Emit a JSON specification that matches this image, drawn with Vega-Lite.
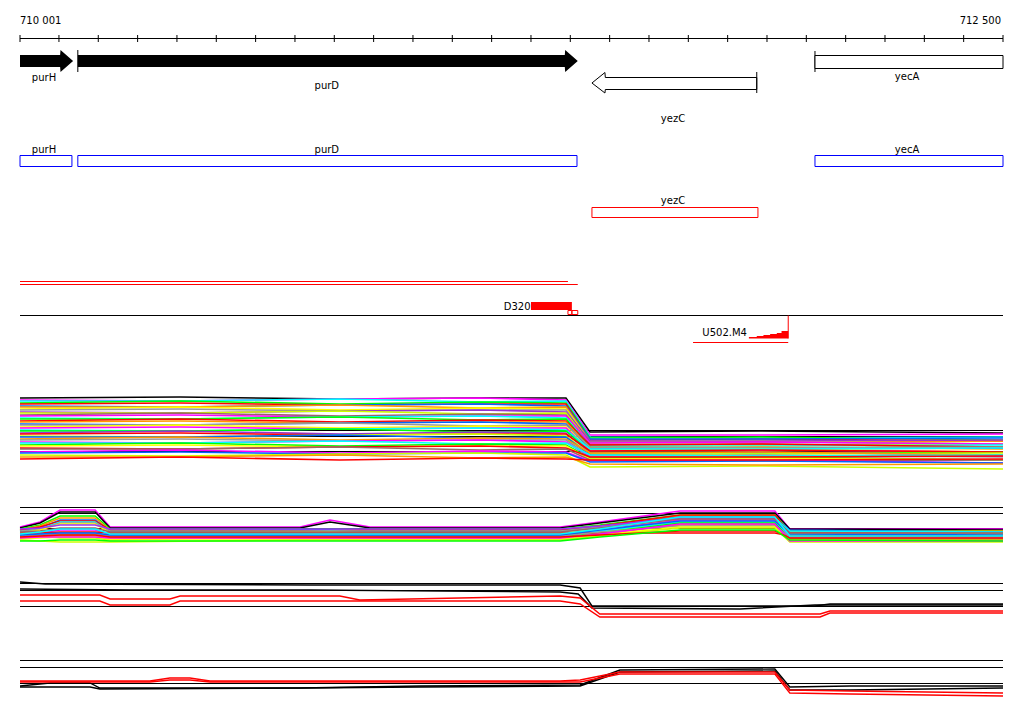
{
"$schema": "https://vega.github.io/schema/vega-lite/v6.json",
"background": "white",
"padding": {"left": 16, "right": 25, "top": 0, "bottom": 0},
"bounds": "flush",
"spacing": 0,
"resolve": {"scale": {"color": "independent", "y": "independent"}},
"config": {"view": {"stroke": null}, "text": {"font": "DejaVu Sans", "fontSize": 10, "color": "black"}},
"vconcat": [
{
"width": 983, "height": 350,
"layer": [
{"data": {"values": [{"x": 710001, "y": 20.5, "t": "710 001"}]}, "mark": {"type": "text", "align": "left", "baseline": "middle"},
 "encoding": {"x": {"field": "x", "type": "quantitative", "scale": {"domain": [710001, 712500], "nice": false, "zero": false}, "axis": null},
 "y": {"field": "y", "type": "quantitative", "scale": {"domain": [0, 350], "reverse": true, "nice": false, "zero": false}, "axis": null}, "text": {"field": "t"}}},
{"data": {"values": [{"x": 712500, "y": 20.5, "t": "712 500"}]}, "mark": {"type": "text", "align": "right", "baseline": "middle", "dx": -2},
 "encoding": {"x": {"field": "x", "type": "quantitative"}, "y": {"field": "y", "type": "quantitative"}, "text": {"field": "t"}}},
{"data": {"values": [{"x": 710001, "x2": 712500, "y": 38.5}]}, "mark": {"type": "rule", "color": "black"},
 "encoding": {"x": {"field": "x", "type": "quantitative"}, "x2": {"field": "x2"}, "y": {"field": "y", "type": "quantitative"}}},
{"data": {"values": [{"x": 710001}, {"x": 710100}, {"x": 710200}, {"x": 710300}, {"x": 710400}, {"x": 710500}, {"x": 710600}, {"x": 710700}, {"x": 710800}, {"x": 710900}, {"x": 711000}, {"x": 711100}, {"x": 711200}, {"x": 711300}, {"x": 711400}, {"x": 711500}, {"x": 711600}, {"x": 711700}, {"x": 711800}, {"x": 711900}, {"x": 712000}, {"x": 712100}, {"x": 712200}, {"x": 712300}, {"x": 712400}, {"x": 712500}]},
 "mark": {"type": "rule", "color": "black"},
 "encoding": {"x": {"field": "x", "type": "quantitative"}, "y": {"datum": 35, "type": "quantitative"}, "y2": {"datum": 42}}},
{"data": {"values": [{"g": "purH", "x": 710001, "y": 55, "y2": 67}, {"g": "purH", "x": 710103, "y": 55, "y2": 67}, {"g": "purH", "x": 710104, "y": 50, "y2": 72}, {"g": "purH", "x": 710136, "y": 61, "y2": 61},
 {"g": "purD", "x": 710148, "y": 55, "y2": 67}, {"g": "purD", "x": 711386, "y": 55, "y2": 67}, {"g": "purD", "x": 711387, "y": 50, "y2": 72}, {"g": "purD", "x": 711419, "y": 61, "y2": 61}]},
 "mark": {"type": "area", "color": "black", "opacity": 1},
 "encoding": {"x": {"field": "x", "type": "quantitative"}, "y": {"field": "y", "type": "quantitative"}, "y2": {"field": "y2"}, "detail": {"field": "g"}}},
{"data": {"values": [{"x": 711455, "y": 83, "y2": 83}, {"x": 711488, "y": 72.5, "y2": 93}, {"x": 711489, "y": 77.5, "y2": 89.5}, {"x": 711874, "y": 77.5, "y2": 89.5}]},
 "mark": {"type": "area", "fill": "white", "stroke": "black", "strokeWidth": 1, "opacity": 1},
 "encoding": {"x": {"field": "x", "type": "quantitative"}, "y": {"field": "y", "type": "quantitative"}, "y2": {"field": "y2"}}},
{"data": {"values": [{"x": 710148, "y": 50, "y2": 72}, {"x": 711874, "y": 72, "y2": 93}, {"x": 712022, "y": 51, "y2": 72}]},
 "mark": {"type": "rule", "color": "black"},
 "encoding": {"x": {"field": "x", "type": "quantitative"}, "y": {"field": "y", "type": "quantitative"}, "y2": {"field": "y2"}}},
{"data": {"values": [{"x": 712022, "x2": 712500, "y": 55.5, "y2": 68.5}]},
 "mark": {"type": "rect", "fill": "white", "stroke": "black", "strokeWidth": 1},
 "encoding": {"x": {"field": "x", "type": "quantitative"}, "x2": {"field": "x2"}, "y": {"field": "y", "type": "quantitative"}, "y2": {"field": "y2"}}},
{"data": {"values": [{"x": 710001, "x2": 710133, "y": 155.5, "y2": 166.5}, {"x": 710148, "x2": 711417, "y": 155.5, "y2": 166.5}, {"x": 712022, "x2": 712500, "y": 155.5, "y2": 166.5}]},
 "mark": {"type": "rect", "fill": "transparent", "stroke": "#0000ff", "strokeWidth": 1},
 "encoding": {"x": {"field": "x", "type": "quantitative"}, "x2": {"field": "x2"}, "y": {"field": "y", "type": "quantitative"}, "y2": {"field": "y2"}}},
{"data": {"values": [{"x": 711455, "x2": 711877, "y": 207.5, "y2": 217.5}, {"x": 711394, "x2": 711404, "y": 310.5, "y2": 314.5}, {"x": 711404, "x2": 711419, "y": 310.5, "y2": 314.5}]},
 "mark": {"type": "rect", "fill": "transparent", "stroke": "#ff0000", "strokeWidth": 1},
 "encoding": {"x": {"field": "x", "type": "quantitative"}, "x2": {"field": "x2"}, "y": {"field": "y", "type": "quantitative"}, "y2": {"field": "y2"}}},
{"data": {"values": [{"x": 711300, "x2": 711404, "y": 302, "y2": 310}]},
 "mark": {"type": "rect", "color": "#ff0000"},
 "encoding": {"x": {"field": "x", "type": "quantitative"}, "x2": {"field": "x2"}, "y": {"field": "y", "type": "quantitative"}, "y2": {"field": "y2"}}},
{"data": {"values": [{"x": 710001, "x2": 711394, "y": 281.5}, {"x": 710001, "x2": 711419, "y": 284.5}, {"x": 711712, "x2": 711954, "y": 342.5}]},
 "mark": {"type": "rule", "color": "#ff0000"},
 "encoding": {"x": {"field": "x", "type": "quantitative"}, "x2": {"field": "x2"}, "y": {"field": "y", "type": "quantitative"}}},
{"data": {"values": [{"x": 710001, "x2": 712500, "y": 315.5}]},
 "mark": {"type": "rule", "color": "black"},
 "encoding": {"x": {"field": "x", "type": "quantitative"}, "x2": {"field": "x2"}, "y": {"field": "y", "type": "quantitative"}}},
{"data": {"values": [{"x": 711854, "y": 337, "y2": 338.5}, {"x": 711874, "y": 336, "y2": 338.5}, {"x": 711891, "y": 335, "y2": 338.5}, {"x": 711908, "y": 334, "y2": 338.5}, {"x": 711925, "y": 333, "y2": 338.5}, {"x": 711937, "y": 331, "y2": 338.5}, {"x": 711954, "y": 331, "y2": 338.5}]},
 "mark": {"type": "area", "color": "#ff0000", "interpolate": "step-after", "opacity": 1},
 "encoding": {"x": {"field": "x", "type": "quantitative"}, "y": {"field": "y", "type": "quantitative"}, "y2": {"field": "y2"}}},
{"data": {"values": [{"x": 711954, "y": 315.5, "y2": 338.5}]},
 "mark": {"type": "rule", "color": "#ff0000"},
 "encoding": {"x": {"field": "x", "type": "quantitative"}, "y": {"field": "y", "type": "quantitative"}, "y2": {"field": "y2"}}},
{"data": {"values": [{"x": 710062, "y": 78, "t": "purH"}, {"x": 710781, "y": 86, "t": "purD"}, {"x": 711661, "y": 119, "t": "yezC"}, {"x": 712256, "y": 77, "t": "yecA"}, {"x": 710062, "y": 150, "t": "purH"}, {"x": 710781, "y": 150, "t": "purD"}, {"x": 712256, "y": 150, "t": "yecA"}, {"x": 711661, "y": 201, "t": "yezC"}]},
 "mark": {"type": "text", "align": "center", "baseline": "middle"},
 "encoding": {"x": {"field": "x", "type": "quantitative"}, "y": {"field": "y", "type": "quantitative"}, "text": {"field": "t"}}},
{"data": {"values": [{"x": 711299, "y": 307, "t": "D320"}, {"x": 711849, "y": 333, "t": "U502.M4"}]},
 "mark": {"type": "text", "align": "right", "baseline": "middle"},
 "encoding": {"x": {"field": "x", "type": "quantitative"}, "y": {"field": "y", "type": "quantitative"}, "text": {"field": "t"}}}
]
},
{
"width": 983, "height": 130,
"layer": [
{"data": {"values": [{"v": 4.95}, {"v": 4.35}, {"v": 2.85}]}, "mark": {"type": "rule", "color": "black"},
 "encoding": {"y": {"field": "v", "type": "quantitative", "scale": {"domain": [0, 13], "nice": false, "zero": false}, "axis": null}}},
{"data": {"values": [
{"x":710001,"a01":8.2,"a02":8.0,"a03":7.9,"a04":7.7,"a05":7.6,"a06":7.4,"a07":7.3,"a08":7.1,"a09":7.0,"a10":6.8,"a11":6.7,"a12":6.5,"a13":6.4,"a14":6.2,"a15":6.1,"a16":5.9,"a17":5.8,"a18":5.6,"a19":5.5,"a20":5.3,"a21":5.2,"a22":5.0,"a23":4.9,"a24":4.7,"a25":4.6,"a26":4.4,"a27":4.3,"a28":4.1,"a29":4.0,"a30":3.8,"a31":3.7,"a32":3.5,"a33":3.4,"a34":3.2,"a35":3.1,"a36":2.8,"a37":2.7,"a38":2.5,"a39":2.3,"a40":2.1},
{"x":710408,"a01":8.3,"a02":7.9,"a03":7.9,"a04":7.9,"a05":7.7,"a06":7.3,"a07":7.3,"a08":7.3,"a09":7.1,"a10":6.7,"a11":6.7,"a12":6.7,"a13":6.5,"a14":6.1,"a15":6.1,"a16":6.1,"a17":5.9,"a18":5.5,"a19":5.5,"a20":5.5,"a21":5.3,"a22":4.9,"a23":4.9,"a24":4.9,"a25":4.7,"a26":4.3,"a27":4.3,"a28":4.3,"a29":4.1,"a30":3.7,"a31":3.7,"a32":3.7,"a33":3.5,"a34":3.1,"a35":3.1,"a36":3.0,"a37":2.8,"a38":2.4,"a39":2.3,"a40":2.3},
{"x":710814,"a01":8.1,"a02":8.1,"a03":8.1,"a04":7.6,"a05":7.5,"a06":7.5,"a07":7.5,"a08":7.0,"a09":6.9,"a10":6.9,"a11":6.9,"a12":6.4,"a13":6.3,"a14":6.3,"a15":6.3,"a16":5.8,"a17":5.7,"a18":5.7,"a19":5.7,"a20":5.2,"a21":5.1,"a22":5.1,"a23":5.1,"a24":4.6,"a25":4.5,"a26":4.5,"a27":4.5,"a28":4.0,"a29":3.9,"a30":3.9,"a31":3.9,"a32":3.4,"a33":3.3,"a34":3.3,"a35":3.3,"a36":2.7,"a37":2.6,"a38":2.6,"a39":2.5,"a40":2.0},
{"x":711170,"a01":8.2,"a02":8.2,"a03":7.8,"a04":7.8,"a05":7.6,"a06":7.6,"a07":7.2,"a08":7.2,"a09":7.0,"a10":7.0,"a11":6.6,"a12":6.6,"a13":6.4,"a14":6.4,"a15":6.0,"a16":6.0,"a17":5.8,"a18":5.8,"a19":5.4,"a20":5.4,"a21":5.2,"a22":5.2,"a23":4.8,"a24":4.8,"a25":4.6,"a26":4.6,"a27":4.2,"a28":4.2,"a29":4.0,"a30":4.0,"a31":3.6,"a32":3.6,"a33":3.4,"a34":3.4,"a35":3.0,"a36":2.9,"a37":2.7,"a38":2.7,"a39":2.2,"a40":2.2},
{"x":711389,"a01":8.2,"a02":8.0,"a03":7.9,"a04":7.7,"a05":7.6,"a06":7.4,"a07":7.3,"a08":7.1,"a09":7.0,"a10":6.8,"a11":6.7,"a12":6.5,"a13":6.4,"a14":6.2,"a15":6.1,"a16":5.9,"a17":5.8,"a18":5.6,"a19":5.5,"a20":5.3,"a21":5.2,"a22":5.0,"a23":4.9,"a24":4.7,"a25":4.6,"a26":4.4,"a27":4.3,"a28":4.1,"a29":4.0,"a30":3.8,"a31":3.7,"a32":3.5,"a33":3.4,"a34":3.2,"a35":3.1,"a36":2.8,"a37":2.7,"a38":2.5,"a39":2.3,"a40":2.1},
{"x":711450,"a01":4.8,"a02":4.5,"a03":4.3,"a04":4.2,"a05":4.0,"a06":4.1,"a07":3.9,"a08":3.8,"a09":3.7,"a10":3.9,"a11":3.6,"a12":3.5,"a13":3.7,"a14":3.4,"a15":3.3,"a16":3.5,"a17":3.2,"a18":3.1,"a19":3.3,"a20":3.0,"a21":2.9,"a22":3.1,"a23":2.8,"a24":2.7,"a25":2.9,"a26":2.6,"a27":2.5,"a28":2.7,"a29":2.4,"a30":2.3,"a31":2.5,"a32":2.2,"a33":2.1,"a34":2.3,"a35":2.0,"a36":1.9,"a37":1.8,"a38":1.3,"a39":1.6,"a40":2.0},
{"x":711882,"a01":4.9,"a02":4.5,"a03":4.2,"a04":4.3,"a05":4.1,"a06":4.1,"a07":3.8,"a08":3.9,"a09":3.8,"a10":3.9,"a11":3.5,"a12":3.6,"a13":3.8,"a14":3.4,"a15":3.2,"a16":3.6,"a17":3.3,"a18":3.1,"a19":3.2,"a20":3.1,"a21":3.0,"a22":3.1,"a23":2.7,"a24":2.8,"a25":3.0,"a26":2.6,"a27":2.4,"a28":2.8,"a29":2.5,"a30":2.3,"a31":2.4,"a32":2.3,"a33":2.2,"a34":2.3,"a35":1.9,"a36":2.0,"a37":1.9,"a38":1.4,"a39":1.5,"a40":2.0},
{"x":712500,"a01":4.7,"a02":4.6,"a03":4.3,"a04":4.0,"a05":3.9,"a06":4.2,"a07":3.9,"a08":3.6,"a09":3.6,"a10":4.0,"a11":3.6,"a12":3.3,"a13":3.6,"a14":3.5,"a15":3.3,"a16":3.3,"a17":3.1,"a18":3.2,"a19":3.3,"a20":2.8,"a21":2.8,"a22":3.2,"a23":2.8,"a24":2.5,"a25":2.8,"a26":2.7,"a27":2.5,"a28":2.5,"a29":2.3,"a30":2.4,"a31":2.5,"a32":2.0,"a33":2.0,"a34":2.4,"a35":2.0,"a36":1.7,"a37":1.7,"a38":1.1,"a39":1.6,"a40":2.1}
]},
 "transform": [{"fold": ["a01","a02","a03","a04","a05","a06","a07","a08","a09","a10","a11","a12","a13","a14","a15","a16","a17","a18","a19","a20","a21","a22","a23","a24","a25","a26","a27","a28","a29","a30","a31","a32","a33","a34","a35","a36","a37","a38","a39","a40"], "as": ["s", "v"]}],
 "mark": {"type": "line", "strokeWidth": 1.6},
 "encoding": {
  "x": {"field": "x", "type": "quantitative", "scale": {"domain": [710001, 712500], "nice": false, "zero": false}, "axis": null},
  "y": {"field": "v", "type": "quantitative"},
  "color": {"field": "s", "type": "nominal", "legend": null, "scale": {
   "domain": ["a01","a02","a03","a04","a05","a06","a07","a08","a09","a10","a11","a12","a13","a14","a15","a16","a17","a18","a19","a20","a21","a22","a23","a24","a25","a26","a27","a28","a29","a30","a31","a32","a33","a34","a35","a36","a37","a38","a39","a40"],
   "range": ["#000000","#ff00ff","#00ffff","#00ff00","#ff0000","#0066ff","#ff9900","#ffff00","#999999","#9933cc","#ccff00","#996666","#ff00ff","#00ffff","#00ff00","#ff0000","#ff9900","#0066ff","#999999","#ffff00","#ff00ff","#00ffff","#00ff00","#9933cc","#ff0000","#ccff00","#0066ff","#ff9900","#999999","#ff00ff","#00ffff","#00ff00","#ffff00","#ff0000","#996666","#ff00ff","#0066ff","#ccff00","#ff9900","#ff0000"]}}
 }}
]
},
{
"width": 983, "height": 80,
"layer": [
{"data": {"values": [{"v": 5.25}, {"v": 4.65}, {"v": 3.15}]}, "mark": {"type": "rule", "color": "black"},
 "encoding": {"y": {"field": "v", "type": "quantitative", "scale": {"domain": [0, 8], "nice": false, "zero": false}, "axis": null}}},
{"data": {"values": [
{"x":710001,"b01":3.3,"b02":3.2,"b03":3.1,"b04":3.0,"b05":2.9,"b06":3.0,"b07":2.8,"b08":2.9,"b09":2.7,"b10":3.1,"b11":2.5,"b12":2.6,"b13":2.4,"b14":2.3,"b15":2.7,"b16":2.2,"b17":2.4,"b18":2.5,"b19":2.1,"b20":2.8,"b21":2.0,"b22":2.2,"b23":2.3,"b24":1.9,"b25":2.6},
{"x":710052,"b01":3.8,"b02":3.7,"b03":3.5,"b04":3.4,"b05":3.2,"b06":3.3,"b07":3.1,"b08":3.1,"b09":3.0,"b10":3.2,"b11":2.4,"b12":2.7,"b13":2.5,"b14":2.4,"b15":2.7,"b16":2.3,"b17":2.5,"b18":2.6,"b19":2.2,"b20":2.9,"b21":1.9,"b22":2.3,"b23":2.4,"b24":1.9,"b25":2.8},
{"x":710103,"b01":5.0,"b02":4.8,"b03":4.4,"b04":4.2,"b05":4.0,"b06":3.9,"b07":3.8,"b08":3.7,"b09":3.6,"b10":3.5,"b11":2.2,"b12":3.0,"b13":2.7,"b14":2.5,"b15":2.8,"b16":2.4,"b17":2.6,"b18":2.7,"b19":2.3,"b20":3.2,"b21":1.8,"b22":2.3,"b23":2.5,"b24":2.0,"b25":3.1},
{"x":710192,"b01":5.0,"b02":4.8,"b03":4.4,"b04":4.2,"b05":4.0,"b06":3.9,"b07":3.8,"b08":3.7,"b09":3.6,"b10":3.5,"b11":2.2,"b12":3.0,"b13":2.7,"b14":2.5,"b15":2.8,"b16":2.4,"b17":2.6,"b18":2.7,"b19":2.3,"b20":3.2,"b21":1.8,"b22":2.3,"b23":2.5,"b24":2.0,"b25":3.1},
{"x":710230,"b01":3.3,"b02":3.2,"b03":3.1,"b04":3.0,"b05":2.9,"b06":3.0,"b07":2.8,"b08":2.9,"b09":2.7,"b10":3.1,"b11":2.0,"b12":2.6,"b13":2.4,"b14":2.3,"b15":2.7,"b16":2.2,"b17":2.4,"b18":2.5,"b19":2.1,"b20":2.8,"b21":1.8,"b22":2.2,"b23":2.3,"b24":1.9,"b25":2.6},
{"x":710713,"b01":3.3,"b02":3.2,"b03":3.1,"b04":3.0,"b05":3.0,"b06":2.9,"b07":2.8,"b08":2.9,"b09":2.8,"b10":3.1,"b11":2.4,"b12":2.6,"b13":2.4,"b14":2.3,"b15":2.7,"b16":2.2,"b17":2.4,"b18":2.5,"b19":2.1,"b20":2.8,"b21":2.0,"b22":2.2,"b23":2.3,"b24":1.9,"b25":2.6},
{"x":710789,"b01":4.0,"b02":3.8,"b03":3.1,"b04":3.0,"b05":3.0,"b06":2.9,"b07":2.9,"b08":2.9,"b09":2.8,"b10":3.1,"b11":2.4,"b12":2.6,"b13":2.5,"b14":2.3,"b15":2.7,"b16":2.2,"b17":2.4,"b18":2.5,"b19":2.1,"b20":2.8,"b21":2.0,"b22":2.2,"b23":2.3,"b24":1.9,"b25":2.6},
{"x":710891,"b01":3.3,"b02":3.2,"b03":3.1,"b04":3.0,"b05":2.9,"b06":3.0,"b07":2.8,"b08":2.9,"b09":2.7,"b10":3.1,"b11":2.5,"b12":2.6,"b13":2.4,"b14":2.3,"b15":2.7,"b16":2.2,"b17":2.4,"b18":2.5,"b19":2.1,"b20":2.8,"b21":2.0,"b22":2.2,"b23":2.3,"b24":1.9,"b25":2.6},
{"x":711374,"b01":3.3,"b02":3.2,"b03":3.1,"b04":3.0,"b05":2.9,"b06":3.0,"b07":2.8,"b08":2.9,"b09":2.7,"b10":3.1,"b11":2.5,"b12":2.6,"b13":2.4,"b14":2.3,"b15":2.7,"b16":2.2,"b17":2.4,"b18":2.5,"b19":2.1,"b20":2.8,"b21":2.0,"b22":2.2,"b23":2.3,"b24":1.9,"b25":2.6},
{"x":711475,"b01":3.8,"b02":3.7,"b03":3.5,"b04":3.4,"b05":3.3,"b06":3.4,"b07":3.2,"b08":3.3,"b09":3.1,"b10":3.4,"b11":2.9,"b12":3.0,"b13":2.9,"b14":2.7,"b15":2.7,"b16":2.6,"b17":2.8,"b18":3.0,"b19":2.5,"b20":3.2,"b21":2.4,"b22":2.6,"b23":2.5,"b24":2.3,"b25":3.1},
{"x":711679,"b01":4.9,"b02":4.7,"b03":4.5,"b04":4.4,"b05":4.3,"b06":4.5,"b07":4.2,"b08":4.1,"b09":3.9,"b10":4.2,"b11":3.6,"b12":4.0,"b13":3.8,"b14":3.7,"b15":2.7,"b16":3.5,"b17":3.4,"b18":3.9,"b19":3.3,"b20":4.1,"b21":3.2,"b22":3.6,"b23":2.9,"b24":3.0,"b25":4.3},
{"x":711920,"b01":4.9,"b02":4.7,"b03":4.5,"b04":4.4,"b05":4.3,"b06":4.5,"b07":4.2,"b08":4.1,"b09":3.9,"b10":4.2,"b11":3.6,"b12":4.0,"b13":3.8,"b14":3.7,"b15":2.7,"b16":3.5,"b17":3.4,"b18":3.9,"b19":3.3,"b20":4.1,"b21":3.2,"b22":3.6,"b23":2.9,"b24":3.0,"b25":4.3},
{"x":711958,"b01":3.1,"b02":3.1,"b03":2.9,"b04":2.8,"b05":3.0,"b06":2.7,"b07":2.9,"b08":2.6,"b09":2.5,"b10":2.4,"b11":2.3,"b12":2.2,"b13":2.5,"b14":2.1,"b15":2.4,"b16":2.0,"b17":2.3,"b18":2.6,"b19":1.9,"b20":2.7,"b21":1.8,"b22":1.9,"b23":2.2,"b24":2.0,"b25":2.4},
{"x":712500,"b01":3.1,"b02":3.0,"b03":2.9,"b04":2.9,"b05":2.8,"b06":2.7,"b07":2.8,"b08":2.6,"b09":2.5,"b10":2.4,"b11":2.3,"b12":2.2,"b13":2.4,"b14":2.1,"b15":2.4,"b16":2.0,"b17":2.2,"b18":2.5,"b19":1.9,"b20":2.7,"b21":1.8,"b22":1.9,"b23":2.2,"b24":1.9,"b25":2.4}
]},
 "transform": [{"fold": ["b01","b02","b03","b04","b05","b06","b07","b08","b09","b10","b11","b12","b13","b14","b15","b16","b17","b18","b19","b20","b21","b22","b23","b24","b25"], "as": ["s", "v"]}],
 "mark": {"type": "line", "strokeWidth": 1.5},
 "encoding": {
  "x": {"field": "x", "type": "quantitative", "scale": {"domain": [710001, 712500], "nice": false, "zero": false}, "axis": null},
  "y": {"field": "v", "type": "quantitative"},
  "color": {"field": "s", "type": "nominal", "legend": null, "scale": {
   "domain": ["b01","b02","b03","b04","b05","b06","b07","b08","b09","b10","b11","b12","b13","b14","b15","b16","b17","b18","b19","b20","b21","b22","b23","b24","b25"],
   "range": ["#ff00ff","#000000","#00ff00","#ff9900","#0066ff","#ff0000","#00ffff","#999999","#ffff00","#9933ff","#ccff00","#ff00ff","#00ffff","#00ff00","#ff0000","#ff9900","#999999","#0066ff","#ffff00","#996666","#ccff00","#ff00ff","#ff0000","#00ff00","#00ffff"]}}
 }}
]
},
{
"width": 983, "height": 80,
"layer": [
{"data": {"values": [{"v": 5.65}, {"v": 4.95}, {"v": 3.35}]}, "mark": {"type": "rule", "color": "black"},
 "encoding": {"y": {"field": "v", "type": "quantitative", "scale": {"domain": [0, 8], "nice": false, "zero": false}, "axis": null}}},
{"data": {"values": [
{"s": "k1", "x": [710001,710065,710738,711374,711425,711455,712022,712060,712500], "v": [5.8,5.6,5.5,5.5,5.2,3.4,3.4,3.6,3.6]},
{"s": "k2", "x": [710001,710281,710738,711374,711420,711455,711831,712022,712500], "v": [5.1,5.0,5.0,4.8,4.6,3.2,3.1,3.5,3.5]},
{"s": "r1", "x": [710001,710204,710230,710382,710408,710814,710865,711374,711425,711475,712035,712060,712500], "v": [4.5,4.5,4.1,4.1,4.4,4.4,4.0,4.4,4.2,2.6,2.6,2.9,2.9]},
{"s": "r2", "x": [710001,710204,710230,710382,710408,711374,711425,711475,712035,712060,712500], "v": [3.9,3.9,3.5,3.5,3.9,3.9,3.6,2.3,2.3,2.7,2.7]}
]},
 "transform": [{"flatten": ["x", "v"]}],
 "mark": {"type": "line", "strokeWidth": 1.4},
 "encoding": {
  "x": {"field": "x", "type": "quantitative", "scale": {"domain": [710001, 712500], "nice": false, "zero": false}, "axis": null},
  "y": {"field": "v", "type": "quantitative"},
  "color": {"field": "s", "type": "nominal", "legend": null, "scale": {"domain": ["k1","k2","r1","r2"], "range": ["#000000","#000000","#ff0000","#ff0000"]}}
 }}
]
},
{
"width": 983, "height": 74,
"layer": [
{"data": {"values": [{"v": 5.35}, {"v": 4.65}, {"v": 3.05}]}, "mark": {"type": "rule", "color": "black"},
 "encoding": {"y": {"field": "v", "type": "quantitative", "scale": {"domain": [0, 7.4], "nice": false, "zero": false}, "axis": null}}},
{"data": {"values": [
{"s": "k1", "x": [710001,710077,710179,710204,710713,711018,711425,711526,711920,711958,712111,712500], "v": [2.8,3.1,3.1,2.6,2.6,2.8,2.9,4.4,4.5,2.7,2.8,2.8]},
{"s": "k2", "x": [710001,710077,710179,710204,710713,711018,711425,711526,711920,711958,712111,712500], "v": [2.7,2.7,2.7,2.5,2.6,2.7,2.8,4.2,4.3,2.4,2.4,2.6]},
{"s": "r1", "x": [710001,710331,710382,710433,710484,711374,711425,711526,711920,711958,712111,712500], "v": [3.3,3.3,3.6,3.6,3.3,3.3,3.4,4.2,4.2,2.4,2.3,2.1]},
{"s": "r2", "x": [710001,710331,710382,710433,710484,711374,711425,711526,711920,711958,712111,712500], "v": [3.2,3.2,3.4,3.4,3.2,3.2,3.2,4.0,4.0,2.1,2.0,1.8]}
]},
 "transform": [{"flatten": ["x", "v"]}],
 "mark": {"type": "line", "strokeWidth": 1.4},
 "encoding": {
  "x": {"field": "x", "type": "quantitative", "scale": {"domain": [710001, 712500], "nice": false, "zero": false}, "axis": null},
  "y": {"field": "v", "type": "quantitative"},
  "color": {"field": "s", "type": "nominal", "legend": null, "scale": {"domain": ["k1","k2","r1","r2"], "range": ["#000000","#000000","#ff0000","#ff0000"]}}
 }}
]
}
]
}
